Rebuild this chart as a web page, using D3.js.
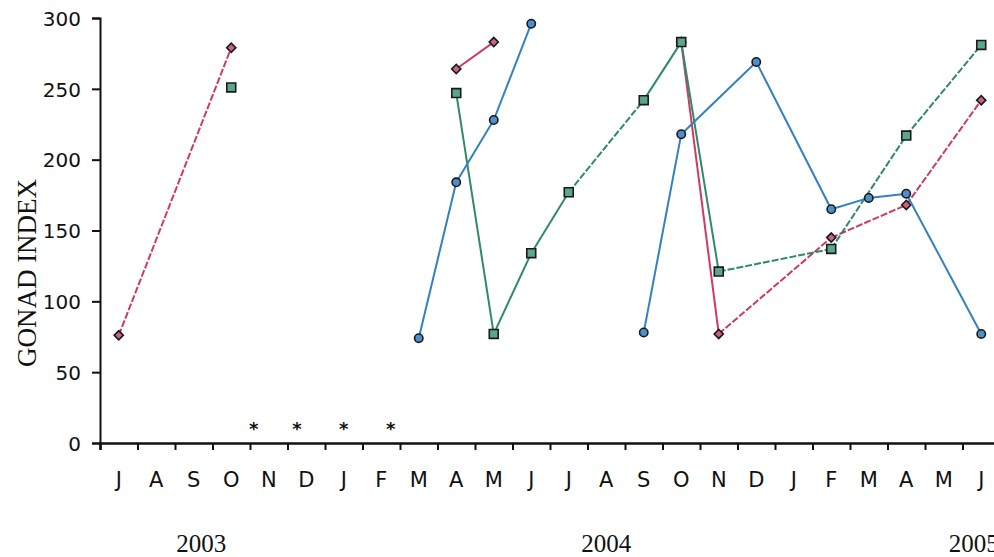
<!DOCTYPE html>
<html>
<head>
<script src="https://cdn.jsdelivr.net/npm/d3@7"></script>
<style>
  body { margin: 0; background: #fff; }
  svg { display: block; }
</style>
</head>
<body>
<div id="chart"></div>
<script>
// months from June 2003 to June 2005 (index 0 = June 2003)
const months = ["J","A","S","O","N","D","J","F","M","A","M","J","J","A","S","O","N","D","J","F","M","A","M","J"];
const yTicks = [0, 50, 100, 150, 200, 250, 300];
const years = [{label: "2003", at: 2.7}, {label: "2004", at: 13.5}, {label: "2005", at: 23.3}];
// months with no sampling (asterisks), fractional month position
const missing = [4.1, 5.25, 6.5, 7.75];

// each series: list of runs, each run = [monthIndex, gonad index]
const pinkRuns = [
  [[0, 76], [3, 279]],
  [[9, 264], [10, 283]],
  [[15, 283], [16, 77], [19, 145], [21, 168], [23, 242]]
];
const blueRuns = [
  [[8, 74], [9, 184], [10, 228], [11, 296]],
  [[14, 78], [15, 218], [17, 269], [19, 165], [20, 173], [21, 176], [23, 77]]
];
const greenRuns = [
  [[3, 251]],
  [[9, 247], [10, 77], [11, 134], [12, 177], [14, 242], [15, 283], [16, 121], [19, 137], [21, 217], [23, 281]]
];

const width = 994, height = 557;
const svg = d3.select("#chart").append("svg").attr("width", width).attr("height", height);

const x = d3.scaleLinear().domain([0, 24]).range([100, 1000]);
const y = d3.scaleLinear().domain([0, 300]).range([443, 18]);

// y axis
const yAxis = svg.append("g").attr("transform", "translate(100,0)")
  .call(d3.axisLeft(y).tickValues(yTicks).tickSize(8).tickPadding(11));
yAxis.selectAll("text").style("font", "20px 'DejaVu Sans'").attr("fill", "#111").attr("dy", "0.36em");
yAxis.select(".domain").attr("stroke", "#111").attr("stroke-width", 2);
yAxis.selectAll(".tick line").attr("stroke", "#111").attr("stroke-width", 2);

// x axis
const xAxis = svg.append("g").attr("transform", "translate(0,443)")
  .call(d3.axisBottom(x).tickValues(d3.range(0, 25)).tickSize(7).tickFormat(""));
xAxis.select(".domain").attr("stroke", "#111").attr("stroke-width", 2.5);
xAxis.selectAll(".tick line").attr("stroke", "#111").attr("stroke-width", 2);

svg.append("g").selectAll("text").data(months).join("text")
  .attr("x", (d, i) => x(i + 0.5))
  .attr("y", 487)
  .attr("text-anchor", "middle")
  .style("font", "21px 'DejaVu Sans'")
  .attr("fill", "#111")
  .text(d => d);

svg.append("g").selectAll("text").data(years).join("text")
  .attr("x", d => x(d.at))
  .attr("y", 552)
  .attr("text-anchor", "middle")
  .style("font", "25px 'Liberation Serif'")
  .attr("fill", "#111")
  .text(d => d.label);

svg.append("text")
  .attr("transform", "translate(36,273) rotate(-90)")
  .attr("text-anchor", "middle")
  .style("font", "27px 'Liberation Serif'")
  .attr("fill", "#111")
  .text("GONAD INDEX");

svg.append("g").selectAll("text").data(missing).join("text")
  .attr("x", d => x(d))
  .attr("y", y(6))
  .attr("text-anchor", "middle")
  .style("font", "bold 18px 'DejaVu Sans'")
  .attr("fill", "#111")
  .text("*");

function drawSeries(runs, color, fill, shape, dashGaps, rot) {
  const g = svg.append("g");
  runs.forEach(run => {
    for (let k = 1; k < run.length; k++) {
      const a = run[k - 1], b = run[k];
      g.append("line")
        .attr("x1", x(a[0] + 0.5)).attr("y1", y(a[1]))
        .attr("x2", x(b[0] + 0.5)).attr("y2", y(b[1]))
        .attr("stroke", color).attr("stroke-width", 2)
        .attr("stroke-dasharray", dashGaps && b[0] - a[0] > 1 ? "7,2" : null);
    }
  });
  const pts = runs.flat();
  g.selectAll("path.m").data(pts).join("path")
    .attr("class", "m")
    .attr("transform", d => `translate(${x(d[0] + 0.5)},${y(d[1])}) rotate(${rot})`)
    .attr("d", d3.symbol().type(shape).size(shape === d3.symbolCircle ? 55 : rot ? 42 : 80))
    .attr("fill", fill).attr("stroke", "#1a1a1a").attr("stroke-width", 1.6);
}

drawSeries(pinkRuns, "#cf3a62", "#c86482", d3.symbolSquare, true, 45);
drawSeries(greenRuns, "#2f8a66", "#5aa888", d3.symbolSquare, true, 0);
drawSeries(blueRuns, "#3480c2", "#4d8fcc", d3.symbolCircle, false, 0);
</script>
</body>
</html>
